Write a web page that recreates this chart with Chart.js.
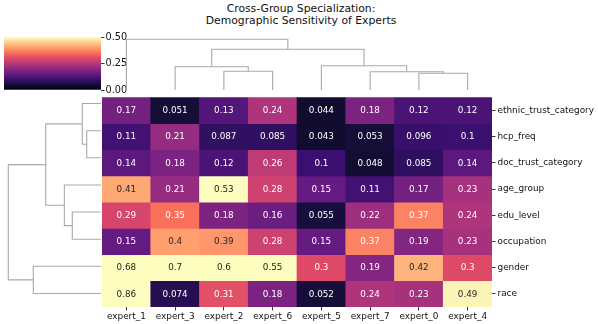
<!DOCTYPE html>
<html>
<head>
<meta charset="utf-8">
<script src="https://cdn.jsdelivr.net/npm/chart.js@4.4.1/dist/chart.umd.min.js"></script>
<style>
  html, body { margin: 0; padding: 0; background: #ffffff; }
  body { width: 598px; height: 324px; position: relative; overflow: hidden; font-family: 'DejaVu Sans', sans-serif; }
  canvas { position: absolute; }
  #title { position: absolute; left: 0; top: 2.5px; width: 598px; text-align: center; font-size: 10.8px; line-height: 12.5px; color: #111; padding-left: 2px; }
</style>
</head>
<body>
<div id="title">Cross-Group Specialization:<br>Demographic Sensitivity of Experts</div>
<canvas id="cbar" width="140" height="70" style="left:4px;top:30px;"></canvas>
<canvas id="coldendro" width="390" height="53" style="left:102px;top:37px;"></canvas>
<canvas id="rowdendro" width="98" height="217" style="left:3px;top:90px;"></canvas>
<canvas id="heat" width="496" height="234" style="left:102px;top:90px;"></canvas>
<script>
// ---------------- DATA ----------------
const columns = ['expert_1', 'expert_3', 'expert_2', 'expert_6', 'expert_5', 'expert_7', 'expert_0', 'expert_4'];
const rowLabels = ['ethnic_trust_category', 'hcp_freq', 'doc_trust_category', 'age_group', 'edu_level', 'occupation', 'gender', 'race'];

const ethnicTrustCategory = [0.17, 0.051, 0.13, 0.24, 0.044, 0.18, 0.12, 0.12];
const hcpFreq             = [0.11, 0.21, 0.087, 0.085, 0.043, 0.053, 0.096, 0.1];
const docTrustCategory    = [0.14, 0.18, 0.12, 0.26, 0.1, 0.048, 0.085, 0.14];
const ageGroup            = [0.41, 0.21, 0.53, 0.28, 0.15, 0.11, 0.17, 0.23];
const eduLevel            = [0.29, 0.35, 0.18, 0.16, 0.055, 0.22, 0.37, 0.24];
const occupation          = [0.15, 0.4, 0.39, 0.28, 0.15, 0.37, 0.19, 0.23];
const gender              = [0.68, 0.7, 0.6, 0.55, 0.3, 0.19, 0.42, 0.3];
const race                = [0.86, 0.074, 0.31, 0.18, 0.052, 0.24, 0.23, 0.49];

const colorbarTicks = [0, 0.25, 0.5];
const vmin = 0, vmax = 0.5;

// column dendrogram linkage (leaf ids = column display order; new ids from 8)
const colMergeA = [6, 2, 5, 1, 4, 11, 0];
const colMergeB = [7, 3, 8, 9, 10, 12, 13];
const colMergeH = [0.315, 0.353, 0.345, 0.44, 0.458, 0.768, 0.957];

// row dendrogram linkage (leaf ids = row display order; new ids from 8)
const rowMergeA = [1, 0, 4, 3, 9, 6, 12];
const rowMergeB = [2, 8, 5, 10, 11, 7, 13];
const rowMergeH = [0.146, 0.191, 0.293, 0.374, 0.564, 0.691, 0.946];

const matrix = [ethnicTrustCategory, hcpFreq, docTrustCategory, ageGroup, eduLevel, occupation, gender, race];

// ---------------- COLOR ----------------
const magmaStops = ['#000004', '#140e36', '#3b0f70', '#641a80', '#8c2981', '#b73779', '#de4968', '#f7705c', '#fe9f6d', '#fecf92', '#fcfdbf'];
function hexToRgb(h) { return [parseInt(h.slice(1,3),16), parseInt(h.slice(3,5),16), parseInt(h.slice(5,7),16)]; }
const magmaRgb = magmaStops.map(hexToRgb);
function magma(t) {
  t = Math.max(0, Math.min(1, t));
  const p = t * (magmaRgb.length - 1);
  const i = Math.min(Math.floor(p), magmaRgb.length - 2);
  const f = p - i;
  const a = magmaRgb[i], b = magmaRgb[i + 1];
  return [0,1,2].map(k => Math.round(a[k] + (b[k] - a[k]) * f));
}
function colorFor(v) { const c = magma((v - vmin) / (vmax - vmin)); return `rgb(${c[0]},${c[1]},${c[2]})`; }
function luminance(c) {
  const lin = c.map(x => { x /= 255; return x <= 0.03928 ? x / 12.92 : Math.pow((x + 0.055) / 1.055, 2.4); });
  return 0.2126 * lin[0] + 0.7152 * lin[1] + 0.0722 * lin[2];
}

Chart.defaults.font.family = "'DejaVu Sans', sans-serif";
Chart.defaults.color = '#111';
Chart.defaults.animation = false;

// ---------------- DENDROGRAM GEOMETRY ----------------
function dendroLinks(nLeaves, A, B, H) {
  const pos = [], h = [];
  for (let i = 0; i < nLeaves; i++) { pos[i] = i + 0.5; h[i] = 0; }
  const links = [];
  for (let k = 0; k < A.length; k++) {
    const a = A[k], b = B[k], id = nLeaves + k;
    pos[id] = (pos[a] + pos[b]) / 2; h[id] = H[k];
    links.push([[pos[a], h[a]], [pos[a], H[k]], [pos[b], H[k]], [pos[b], h[b]]]);
  }
  return links;
}
const lineColor = '#a9a9a9';

// column dendrogram
const colLinks = dendroLinks(columns.length, colMergeA, colMergeB, colMergeH);
new Chart(document.getElementById('coldendro'), {
  type: 'scatter',
  data: { datasets: colLinks.map(l => ({
    data: l.map(p => ({ x: p[0], y: p[1] })),
    showLine: true, pointRadius: 0, borderColor: lineColor, borderWidth: 1.1, clip: false, tension: 0
  })) },
  options: {
    responsive: false, layout: { padding: 0 },
    plugins: { legend: { display: false }, tooltip: { enabled: false } },
    scales: {
      x: { type: 'linear', min: 0, max: columns.length, display: false },
      y: { type: 'linear', min: 0, max: 1, display: false }
    }
  }
});

// row dendrogram
const rowLinks = dendroLinks(rowLabels.length, rowMergeA, rowMergeB, rowMergeH);
new Chart(document.getElementById('rowdendro'), {
  type: 'scatter',
  data: { datasets: rowLinks.map(l => ({
    data: l.map(p => ({ x: p[1], y: p[0] })),
    showLine: true, pointRadius: 0, borderColor: lineColor, borderWidth: 1.1, clip: false, tension: 0
  })) },
  options: {
    responsive: false, layout: { padding: 0 },
    plugins: { legend: { display: false }, tooltip: { enabled: false } },
    scales: {
      x: { type: 'linear', min: 0, max: 1, reverse: true, display: false },
      y: { type: 'linear', min: 0, max: rowLabels.length, reverse: true, display: false }
    }
  }
});

// colorbar
new Chart(document.getElementById('cbar'), {
  type: 'bar',
  data: {
    labels: ['colorbar'],
    datasets: [{
      data: [[vmin, vmax]],
      borderWidth: 0,
      barPercentage: 1, categoryPercentage: 1,
      backgroundColor: (ctx) => {
        const chart = ctx.chart;
        if (!chart.chartArea) return '#000';
        const y = chart.scales.y;
        const g = chart.ctx.createLinearGradient(0, y.getPixelForValue(vmin), 0, y.getPixelForValue(vmax));
        magmaStops.forEach((c, i) => g.addColorStop(i / (magmaStops.length - 1), c));
        return g;
      }
    }]
  },
  options: {
    responsive: false,
    layout: { padding: { top: 7, bottom: 10, left: 0, right: 0 } },
    plugins: { legend: { display: false }, tooltip: { enabled: false } },
    scales: {
      x: { display: false },
      y: {
        position: 'right', min: vmin, max: vmax,
        afterBuildTicks: (s) => { s.ticks = colorbarTicks.map(v => ({ value: v })); },
        afterFit: (s) => { s.width = 43; },
        ticks: { callback: (v) => Number(v).toFixed(2), font: { size: 9.7 }, color: '#111', padding: 1 },
        grid: { drawOnChartArea: false, tickLength: 3.5, color: '#222', tickWidth: 0.9 },
        border: { display: false }
      }
    }
  }
});

// heatmap
const annotPlugin = {
  id: 'annot',
  afterDatasetsDraw(chart) {
    const ctx = chart.ctx;
    ctx.save();
    ctx.font = "8.8px 'DejaVu Sans', sans-serif";
    ctx.textAlign = 'center';
    ctx.textBaseline = 'middle';
    chart.data.datasets.forEach((ds, di) => {
      const meta = chart.getDatasetMeta(di);
      meta.data.forEach((el, j) => {
        const v = matrix[di][j];
        const lum = luminance(magma((v - vmin) / (vmax - vmin)));
        ctx.fillStyle = lum > 0.408 ? '#262626' : '#ffffff';
        ctx.fillText(String(v), el.x, (el.y + el.base) / 2 + 0.5);
      });
    });
    ctx.restore();
  }
};

new Chart(document.getElementById('heat'), {
  type: 'bar',
  data: {
    labels: columns,
    datasets: matrix.map((rowVals, ri) => ({
      label: rowLabels[ri],
      data: rowVals.map(() => [ri, ri + 1]),
      backgroundColor: rowVals.map(v => colorFor(v)),
      borderWidth: 0,
      grouped: false,
      barPercentage: 1, categoryPercentage: 1
    }))
  },
  options: {
    responsive: false,
    layout: { padding: 0 },
    plugins: { legend: { display: false }, tooltip: { enabled: false } },
    scales: {
      x: {
        position: 'bottom',
        afterFit: (s) => { s.height = 17; },
        ticks: { font: { size: 8.9 }, color: '#111', padding: 1, maxRotation: 0, autoSkip: false },
        grid: { drawOnChartArea: false, offset: false, tickLength: 3.5, color: '#222', tickWidth: 0.9 },
        border: { display: false }
      },
      y: { type: 'linear', min: 0, max: rowLabels.length, reverse: true, display: false },
      yl: {
        type: 'category', labels: rowLabels, position: 'right', offset: true,
        afterFit: (s) => { s.width = 106; },
        ticks: { font: { size: 8.9 }, color: '#111', padding: 2, autoSkip: false },
        grid: { drawOnChartArea: false, offset: false, tickLength: 3.5, color: '#222', tickWidth: 0.9 },
        border: { display: false }
      }
    }
  },
  plugins: [annotPlugin]
});
</script>
</body>
</html>
